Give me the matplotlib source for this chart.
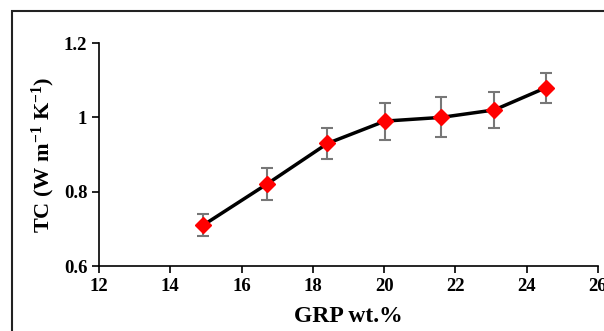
import matplotlib
matplotlib.use('Agg')
import matplotlib.pyplot as plt
from matplotlib.patches import Rectangle

grp = [14.92, 16.70, 18.41, 20.02, 21.60, 23.09, 24.54]
tc = [0.71, 0.82, 0.93, 0.99, 1.00, 1.02, 1.08]
tc_err = [0.03, 0.043, 0.041, 0.05, 0.054, 0.048, 0.04]

plt.rcParams['font.family'] = 'Liberation Serif'
plt.rcParams['font.weight'] = 'bold'
plt.rcParams['mathtext.fontset'] = 'custom'
plt.rcParams['mathtext.rm'] = 'Liberation Serif:bold'
plt.rcParams['mathtext.bf'] = 'Liberation Serif:bold'
plt.rcParams['mathtext.default'] = 'rm'

fig = plt.figure(figsize=(6.04, 3.31), dpi=100)
fig.patches.append(Rectangle((12 / 604, -0.05), 1.0, 1.0 - 11 / 331 + 0.05,
                             transform=fig.transFigure, fill=False,
                             edgecolor='#222222', linewidth=1.5))
ax = fig.add_axes([0.164, 0.196, 0.826, 0.674])
ax.errorbar(grp, tc, yerr=tc_err, color='black', linewidth=2.5,
            marker='D', markersize=8.5, markerfacecolor='red', markeredgecolor='red',
            ecolor='#777777', elinewidth=1.5, capsize=4, capthick=1.5, zorder=3)
ax.set_xlim(12, 26)
ax.set_ylim(0.6, 1.2)
ax.set_xticks([12, 14, 16, 18, 20, 22, 24, 26])
ax.set_yticks([0.6, 0.8, 1.0, 1.2])
ax.set_yticklabels(['0.6', '0.8', '1', '1.2'])
for s in ['top', 'right']:
    ax.spines[s].set_visible(False)
for s in ['left', 'bottom']:
    ax.spines[s].set_linewidth(1.2)
ax.tick_params(direction='out', length=5, width=1.2, labelsize=13.5)
for lab in ax.get_xticklabels() + ax.get_yticklabels():
    lab.set_fontweight('bold')
ax.set_xlabel('GRP wt.%', fontsize=17, fontweight='bold', labelpad=8)
ax.set_ylabel('TC (W m$^{\\rm{-1}}$ K$^{\\rm{-1}}$)', fontsize=16, fontweight='bold', labelpad=5)
fig.savefig('out.png', dpi=100)
